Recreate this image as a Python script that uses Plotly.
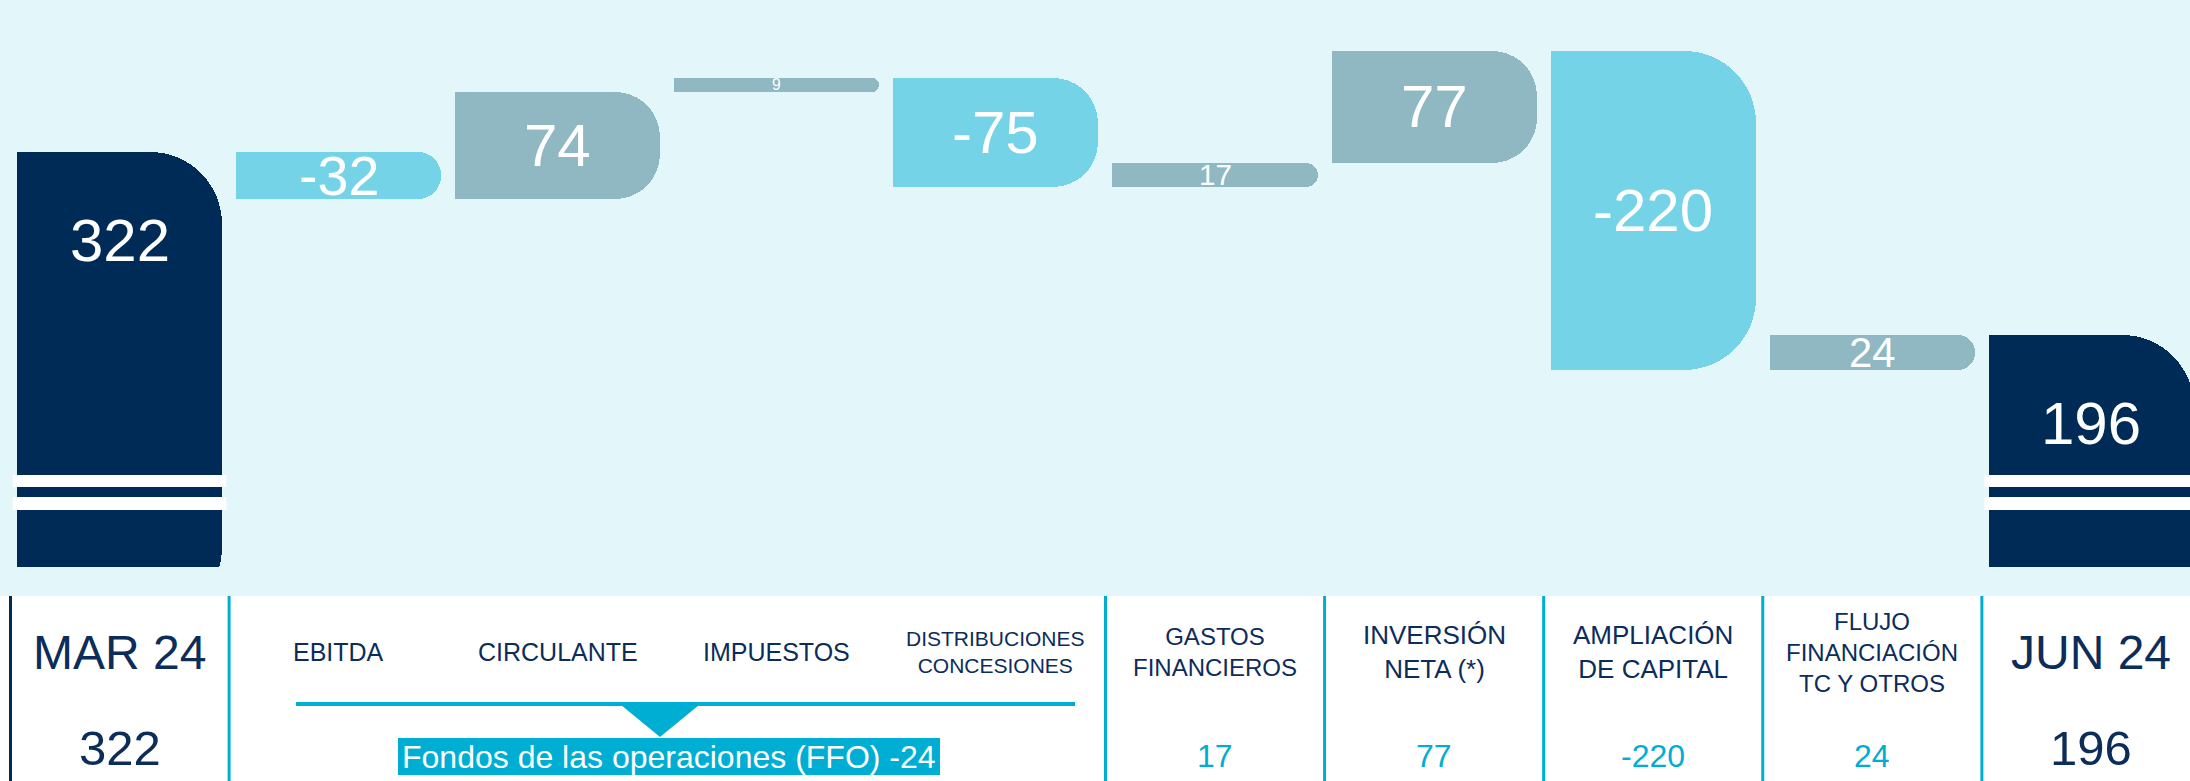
import math
import plotly.graph_objects as go

# ---------------- data ----------------
categories = ["MAR 24", "EBITDA", "CIRCULANTE", "IMPUESTOS", "DISTRIBUCIONES CONCESIONES",
              "GASTOS FINANCIEROS", "INVERSIÓN NETA (*)", "AMPLIACIÓN DE CAPITAL",
              "FLUJO FINANCIACIÓN TC Y OTROS", "JUN 24"]
column_labels = ["MAR 24", "EBITDA", "CIRCULANTE", "IMPUESTOS", "DISTRIBUCIONES<br>CONCESIONES",
                 "GASTOS<br>FINANCIEROS", "INVERSIÓN<br>NETA (*)", "AMPLIACIÓN<br>DE CAPITAL",
                 "FLUJO<br>FINANCIACIÓN<br>TC Y OTROS", "JUN 24"]
measures = ["absolute", "relative", "relative", "relative", "relative",
            "relative", "relative", "relative", "relative", "total"]
values = [322, -32, 74, 9, -75, 17, 77, -220, 24, 196]
ffo_members = ["EBITDA", "CIRCULANTE", "IMPUESTOS", "DISTRIBUCIONES CONCESIONES"]
ffo_title = "Fondos de las operaciones (FFO)"

# ---------------- style ----------------
W, H = 2190, 781
ML = 10
PLOT_H = 567
Y_RANGE = [36.1, 427.1]
X_RANGE = [-0.5, 9.45]
BAR_W = 0.936
PPU = PLOT_H / (Y_RANGE[1] - Y_RANGE[0])
LABEL_SIZES = [48, 25, 25, 25, 21, 24, 26, 26, 24, 48]

BG = "#E3F6FA"
NAVY = "#012B57"
TEXT_NAVY = "#0C2C5A"
NEG = "#74D3E6"
POS = "#8FB8C2"
CYAN = "#00AED4"
FONT = "Liberation Sans, Arial, sans-serif"


def py(px):
    return (PLOT_H - px) / PLOT_H


def pxx(px):
    return (px - ML) / (W - ML)


def cx(c):
    return (c - X_RANGE[0]) / (X_RANGE[1] - X_RANGE[0])


# ---------------- waterfall geometry ----------------
bases, heights = [], []
running = 0
for m, v in zip(measures, values):
    if m == "absolute":
        bases.append(0); heights.append(v); running = v
    elif m == "relative":
        bases.append(running); heights.append(v); running += v
    else:
        bases.append(0); heights.append(running)

fig = go.Figure()
for i, (cat, m, b, h) in enumerate(zip(categories, measures, bases, heights)):
    if m in ("absolute", "total"):
        color = NAVY
    else:
        color = POS if h > 0 else NEG
    r = min(72, 2 + 5 * math.sqrt(abs(h)))
    fig.add_trace(go.Bar(x=[cat], y=[h], base=[b], width=BAR_W,
                         marker=dict(color=color, cornerradius=int(r), line_width=0),
                         hoverinfo="skip", showlegend=False))
    fig.add_trace(go.Bar(x=[cat], y=[h], base=[b], width=BAR_W / 2, offset=-BAR_W / 2,
                         marker=dict(color=color, line_width=0),
                         hoverinfo="skip", showlegend=False))

annotations = []
shapes = []

# value labels in the bars
for i, (m, b, h) in enumerate(zip(measures, bases, heights)):
    if m in ("absolute", "total"):
        annotations.append(dict(x=i, y=h, xref="x", yref="y", yshift=-88, text=str(h),
                                showarrow=False, font=dict(size=60, color="white", family=FONT)))
    else:
        size = min(60, 1.2 * abs(h) * PPU)
        annotations.append(dict(x=i, y=b + h / 2, xref="x", yref="y", text=str(h),
                                showarrow=False, font=dict(size=size, color="white", family=FONT)))

# axis break stripes on the total bars
for i, m in enumerate(measures):
    if m in ("absolute", "total"):
        for a, z in ((475, 487), (497, 510)):
            shapes.append(dict(type="rect", xref="x", yref="paper",
                               x0=i - BAR_W / 2 - 0.02, x1=i + BAR_W / 2 + 0.02,
                               y0=py(z), y1=py(a), fillcolor="white", line_width=0, layer="above"))

# white table area
shapes.append(dict(type="rect", xref="paper", yref="paper", x0=pxx(-5), x1=pxx(W + 5),
                   y0=py(H + 5), y1=py(596), fillcolor="white", line_width=0, layer="below"))

# table separators
for k, bnd in enumerate([-0.5, 0.5, 4.5, 5.5, 6.5, 7.5, 8.5]):
    xp = cx(bnd) + (0.5 / (W - ML) if k == 0 else 0)
    shapes.append(dict(type="line", xref="paper", yref="paper", x0=xp, x1=xp,
                       y0=py(596), y1=py(H + 2),
                       line=dict(color=NAVY if k == 0 else CYAN, width=3)))

# column labels
for i, (lab, size) in enumerate(zip(column_labels, LABEL_SIZES)):
    annotations.append(dict(x=i, y=py(652), xref="x", yref="paper", text=lab, showarrow=False,
                            xanchor="center", yanchor="middle",
                            font=dict(size=size, color=TEXT_NAVY, family=FONT)))

# bottom value row
for i, (m, cat, h) in enumerate(zip(measures, categories, heights)):
    if m in ("absolute", "total"):
        annotations.append(dict(x=i, y=py(748), xref="x", yref="paper", text=str(h),
                                showarrow=False, xanchor="center", yanchor="middle",
                                font=dict(size=49, color=TEXT_NAVY, family=FONT)))
    elif cat not in ffo_members:
        annotations.append(dict(x=i, y=py(756), xref="x", yref="paper", text=str(h),
                                showarrow=False, xanchor="center", yanchor="middle",
                                font=dict(size=32, color=CYAN, family=FONT)))

# FFO bracket
ffo = sum(v for c, v in zip(categories, values) if c in ffo_members)
shapes.append(dict(type="line", xref="paper", yref="paper", x0=pxx(296), x1=pxx(1075),
                   y0=py(704), y1=py(704), line=dict(color=CYAN, width=4)))
shapes.append(dict(type="path", xref="paper", yref="paper",
                   path=f"M {pxx(621)},{py(705)} L {pxx(699)},{py(705)} L {pxx(660)},{py(737)} Z",
                   fillcolor=CYAN, line_width=0))
shapes.append(dict(type="rect", xref="paper", yref="paper", x0=pxx(398), x1=pxx(940),
                   y0=py(775), y1=py(738), fillcolor=CYAN, line_width=0))
annotations.append(dict(x=pxx(669), y=py(757), xref="paper", yref="paper",
                        text=f"{ffo_title} {ffo}", showarrow=False,
                        xanchor="center", yanchor="middle",
                        font=dict(size=32, color="white", family=FONT)))

fig.update_layout(
    width=W, height=H,
    margin=dict(l=ML, r=0, t=0, b=H - PLOT_H, pad=0),
    paper_bgcolor=BG, plot_bgcolor=BG,
    barmode="overlay", bargap=0,
    showlegend=False,
    xaxis=dict(type="category", categoryorder="array", categoryarray=categories,
               range=X_RANGE, showticklabels=False, showgrid=False, zeroline=False,
               showline=False, ticks="", fixedrange=True),
    yaxis=dict(range=Y_RANGE, visible=False, showgrid=False, zeroline=False, fixedrange=True),
    shapes=shapes, annotations=annotations,
    font=dict(family=FONT),
)

fig.write_html("out.html", config={"displayModeBar": False},
               post_script="document.body.style.margin='0';document.body.style.overflow='hidden';")
